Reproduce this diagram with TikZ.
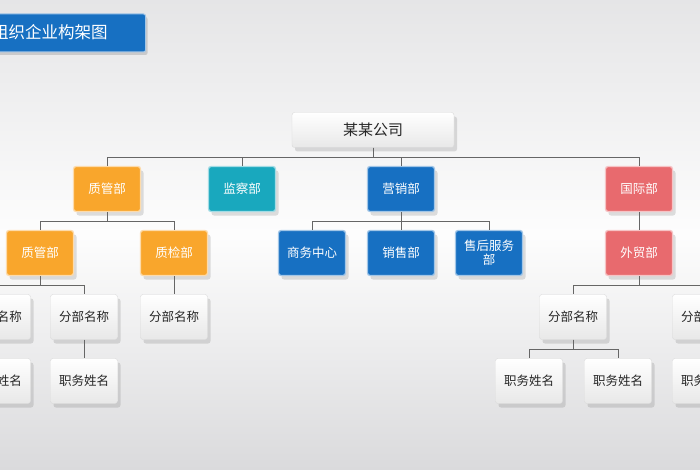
\documentclass[tikz,border=0pt]{standalone}
\usepackage{fontspec}
\setmainfont{Noto Sans CJK SC}
\usetikzlibrary{shadows}
\definecolor{cor}{HTML}{F9A62C}
\definecolor{cte}{HTML}{19A8BE}
\definecolor{cbl}{HTML}{1770C2}
\definecolor{cre}{HTML}{E86A6E}
\definecolor{cbg}{HTML}{DADADC}
\begin{document}
\begin{tikzpicture}[x=1pt,y=-1pt,
  bx/.style={rounded corners=2.5pt,minimum width=67pt,minimum height=45pt,inner sep=1pt,align=center,font=\fontsize{12.5}{14}\selectfont,drop shadow={shadow xshift=3pt,shadow yshift=-4pt,opacity=0.25}},
  colbx/.style={bx,fill=#1,draw=white!60!#1,line width=1.3pt,text=white},
  gbx/.style={bx,top color=white,bottom color=gray!18,draw=gray!30,text=black!85},
  ln/.style={draw=gray!80!black,line width=0.6pt}]
\useasboundingbox (0,0) rectangle (700,470);
\clip (0,0) rectangle (700,470);
\shade[top color=cbg!70,bottom color=cbg,middle color=white!95!cbg] (0,0) rectangle (700,470);
% title
\node[fill=cbl,draw=white!60!cbl,line width=1pt,rounded corners=2pt,minimum width=170pt,minimum height=38pt,anchor=east,drop shadow={shadow xshift=2pt,shadow yshift=-3pt,opacity=0.3}] (title) at (146,33) {};
\node[anchor=west,text=white,font=\fontsize{16.5}{18}\selectfont,inner sep=0pt] (tt) at (-8,32) {组织企业构架图};
% company
\node[gbx,minimum width=162pt,minimum height=35pt,font=\fontsize{15}{17}\selectfont] (co) at (373,130) {某某公司};
% level 1
\node[colbx=cor] (zg) at (107,189) {质管部};
\node[colbx=cte] (jc) at (242,189) {监察部};
\node[colbx=cbl] (yx) at (401,189) {营销部};
\node[colbx=cre] (gj) at (639,189) {国际部};
% level 2
\node[colbx=cor] (zg2) at (40,253) {质管部};
\node[colbx=cor] (zj) at (174,253) {质检部};
\node[colbx=cbl] (sw) at (312,253) {商务中心};
\node[colbx=cbl] (xs) at (401,253) {销售部};
\node[colbx=cbl] (sh) at (489,253) {售后服务\\部};
\node[colbx=cre] (wm) at (639,253) {外贸部};
% level 3
\node[gbx] (f1) at (-3,317) {分部名称};
\node[gbx] (f2) at (84,317) {分部名称};
\node[gbx] (f3) at (174,317) {分部名称};
\node[gbx] (f4) at (573,317) {分部名称};
\node[gbx] (f5) at (706,317) {分部名称};
% level 4
\node[gbx] (z1) at (-3,381) {职务姓名};
\node[gbx] (z2) at (84,381) {职务姓名};
\node[gbx] (z3) at (529,381) {职务姓名};
\node[gbx] (z4) at (618,381) {职务姓名};
\node[gbx] (z5) at (706,381) {职务姓名};
% connectors
\path[ln] (co.south) |- (zg.north|-0,157) -- (zg.north);
\path[ln] (co.south) |- (gj.north|-0,157) -- (gj.north);
\path[ln] (jc.north) -- (jc.north|-0,157);
\path[ln] (yx.north) -- (yx.north|-0,157);
\path[ln] (zg.south) |- (zg2.north|-0,221) -- (zg2.north);
\path[ln] (zg.south) |- (zj.north|-0,221) -- (zj.north);
\path[ln] (yx.south) |- (sw.north|-0,221) -- (sw.north);
\path[ln] (yx.south) |- (sh.north|-0,221) -- (sh.north);
\path[ln] (yx.south) -- (xs.north);
\path[ln] (gj.south) -- (wm.north);
\path[ln] (zg2.south) |- (f1.north|-0,285) -- (f1.north);
\path[ln] (zg2.south) |- (f2.north|-0,285) -- (f2.north);
\path[ln] (zj.south) -- (f3.north);
\path[ln] (wm.south) |- (f4.north|-0,285) -- (f4.north);
\path[ln] (wm.south) |- (f5.north|-0,285) -- (f5.north);
\path[ln] (f1.south) -- (z1.north);
\path[ln] (f2.south) -- (z2.north);
\path[ln] (f4.south) |- (z3.north|-0,349) -- (z3.north);
\path[ln] (f4.south) |- (z4.north|-0,349) -- (z4.north);
\path[ln] (f5.south) -- (z5.north);
\end{tikzpicture}
\end{document}
